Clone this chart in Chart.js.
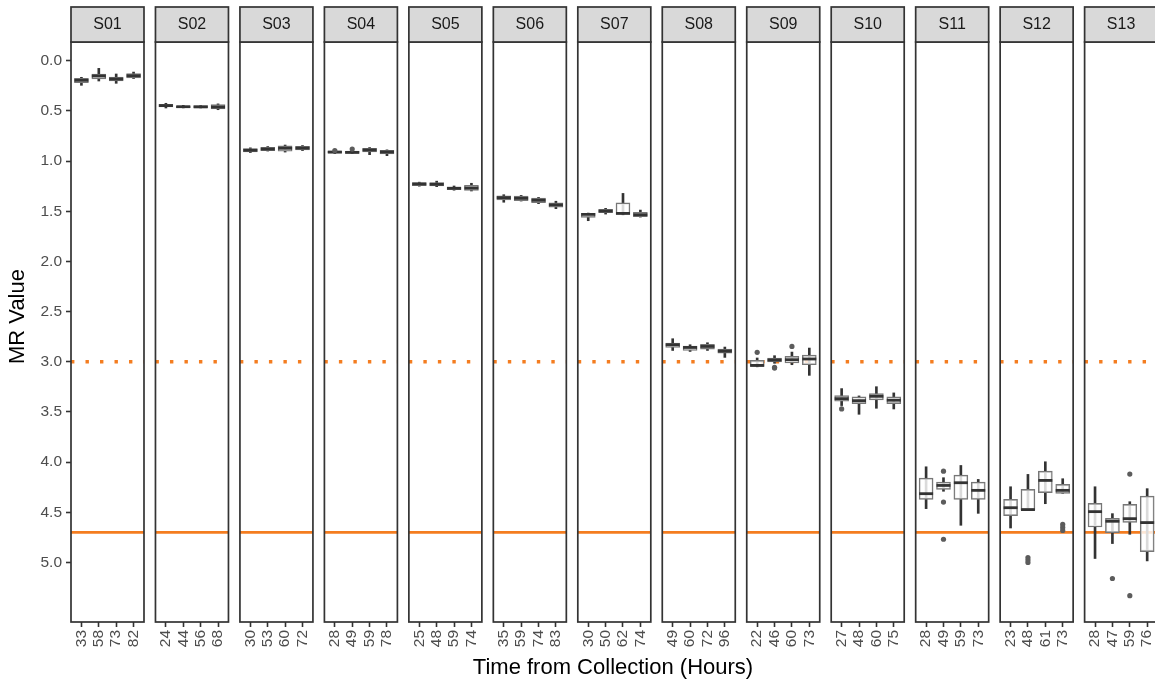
<!DOCTYPE html>
<html>
<head>
<meta charset="utf-8">
<script src="https://cdn.jsdelivr.net/npm/chart.js@4.4.1/dist/chart.umd.min.js"></script>
<style>
  html, body { margin: 0; padding: 0; background: #ffffff; overflow: hidden; }
  canvas { display: block; }
</style>
</head>
<body>
<canvas id="chart" width="1155" height="682"></canvas>
<script>
// Facet labels (one panel per subject)
const subjects = ['S01','S02','S03','S04','S05','S06','S07','S08','S09','S10','S11','S12','S13'];

// Collection times (hours) shown under each panel
const hours = [
  [33, 58, 73, 82], [24, 44, 56, 68], [30, 53, 60, 72], [28, 49, 59, 78],
  [25, 48, 59, 74], [35, 59, 74, 83], [30, 50, 62, 74], [49, 60, 72, 96],
  [22, 46, 60, 73], [27, 48, 60, 75], [28, 49, 59, 73], [23, 48, 61, 73],
  [28, 47, 59, 76]
];

// Box-plot statistics per subject and time point
const whiskerLow = [
  [0.165, 0.076, 0.132, 0.113], [0.424, 0.445, 0.445, 0.430], [0.868, 0.855, 0.840, 0.845],
  [0.900, 0.900, 0.865, 0.888], [1.210, 1.200, 1.248, 1.221], [1.335, 1.342, 1.362, 1.400],
  [1.518, 1.471, 1.322, 1.488], [2.770, 2.830, 2.810, 2.853], [2.962, 2.939, 2.903, 2.863],
  [3.267, 3.340, 3.248, 3.310], [4.046, 4.155, 4.033, 4.172], [4.245, 4.122, 3.996, 4.165],
  [4.245, 4.513, 4.394, 4.264]
];
const q1 = [
  [0.175, 0.132, 0.162, 0.129], [0.434, 0.451, 0.448, 0.437], [0.875, 0.862, 0.849, 0.852],
  [0.900, 0.903, 0.873, 0.893], [1.215, 1.215, 1.258, 1.241], [1.345, 1.348, 1.368, 1.417],
  [1.521, 1.481, 1.416, 1.511], [2.813, 2.843, 2.827, 2.873], [2.986, 2.962, 2.946, 2.933],
  [3.337, 3.350, 3.317, 3.350], [4.159, 4.199, 4.129, 4.199], [4.371, 4.271, 4.090, 4.222],
  [4.410, 4.560, 4.420, 4.338]
];
const median = [
  [0.195, 0.152, 0.182, 0.149], [0.447, 0.458, 0.460, 0.461], [0.892, 0.880, 0.872, 0.870],
  [0.910, 0.913, 0.889, 0.909], [1.228, 1.231, 1.271, 1.268], [1.364, 1.371, 1.390, 1.437],
  [1.531, 1.498, 1.521, 1.535], [2.830, 2.857, 2.847, 2.893], [3.036, 2.982, 2.979, 2.972],
  [3.367, 3.387, 3.344, 3.383], [4.314, 4.232, 4.205, 4.281], [4.454, 4.473, 4.182, 4.281],
  [4.493, 4.589, 4.563, 4.602]
];
const q3 = [
  [0.219, 0.182, 0.202, 0.172], [0.461, 0.467, 0.467, 0.481], [0.908, 0.895, 0.902, 0.889],
  [0.920, 0.923, 0.909, 0.929], [1.245, 1.248, 1.285, 1.291], [1.387, 1.394, 1.414, 1.460],
  [1.561, 1.515, 1.531, 1.555], [2.857, 2.887, 2.873, 2.913], [3.047, 3.002, 3.012, 3.029],
  [3.393, 3.417, 3.380, 3.417], [4.371, 4.271, 4.371, 4.371], [4.533, 4.473, 4.304, 4.311],
  [4.646, 4.702, 4.600, 4.891]
];
const whiskerHigh = [
  [0.245, 0.202, 0.225, 0.177], [0.471, 0.470, 0.470, 0.488], [0.915, 0.900, 0.910, 0.895],
  [0.925, 0.925, 0.936, 0.946], [1.250, 1.255, 1.290, 1.298], [1.410, 1.398, 1.424, 1.474],
  [1.594, 1.528, 1.535, 1.558], [2.887, 2.897, 2.887, 2.956], [3.050, 3.015, 3.029, 3.135],
  [3.436, 3.523, 3.463, 3.470], [4.463, 4.290, 4.629, 4.510], [4.656, 4.473, 4.414, 4.311],
  [4.960, 4.811, 4.719, 4.984]
];
const outliers = [
  [[], [], [], []], [[], [], [], []], [[], [], [], []],
  [[0.895], [0.880], [], []], [[], [], [], []], [[], [], [], []],
  [[], [], [], []], [[], [], [], []], [[2.906], [3.055, 3.062], [2.847], []],
  [[3.470], [], [], []], [[], [4.090, 4.398, 4.768], [], []],
  [[], [4.950, 4.975, 5.000], [], [4.620, 4.650, 4.680]],
  [[], [5.159], [4.119, 5.330], []]
];

// Reference thresholds
const refDotted = 3.0;
const refSolid = 4.7;

const yTicks = [0, 0.5, 1, 1.5, 2, 2.5, 3, 3.5, 4, 4.5, 5];

// ---- layout of the facets on a shared continuous x axis ----
const PITCH = 4.86;          // distance between neighbouring panels (x units)
const PAD = 0.6;             // discrete-axis padding on each side of a panel
const X_MIN = 1 - PAD;
const X_MAX = 62.77;
const panelStart = p => p * PITCH + 1 - PAD;
const panelEnd = p => p * PITCH + 4 + PAD;
const STRIP_TOP = 7;

// y limits with 5 % expansion of the data range
const allVals = [whiskerLow, whiskerHigh, outliers].flat(3);
const dMin = Math.min(...allVals), dMax = Math.max(...allVals);
const yExp = (dMax - dMin) * 0.05;
const Y_MIN = dMin - yExp, Y_MAX = dMax + yExp;

const FAMILY = "'Liberation Sans', Arial, Helvetica, sans-serif";
const REF_COLOR = '#F47D20';
const DARK = '#333333';

const tickPos = [], tickText = [];
const whiskerData = [], boxData = [], medianData = [], outlierData = [];
subjects.forEach((s, p) => {
  hours[p].forEach((h, j) => {
    const xv = p * PITCH + 1 + j;
    tickPos.push(xv);
    tickText.push(String(h));
    whiskerData.push({ x: xv, y: [whiskerLow[p][j], whiskerHigh[p][j]] });
    boxData.push({ x: xv, y: [q1[p][j], q3[p][j]] });
    medianData.push({ x: xv, y: median[p][j] });
    outliers[p][j].forEach(v => outlierData.push({ x: xv, y: v }));
  });
});

// Facet decorations: full-width plotting area, reference lines,
// panel frames, strip headers and the y-axis title
const facetPlugin = {
  id: 'facets',
  afterLayout(chart) {
    // let the panel strip run to the right edge of the canvas
    const a = chart.chartArea, xs = chart.scales.x;
    a.right = chart.width;
    a.width = a.right - a.left;
    xs.right = a.right;
    xs.width = a.right - xs.left;
    xs.configure();
  },
  beforeDatasetsDraw(chart) {
    const { ctx, chartArea: a, scales: { x, y } } = chart;
    ctx.save();
    ctx.beginPath();
    ctx.rect(a.left, a.top, a.right - a.left, a.bottom - a.top);
    ctx.clip();
    ctx.strokeStyle = REF_COLOR;
    ctx.lineCap = 'butt';
    subjects.forEach((s, p) => {
      const l = x.getPixelForValue(panelStart(p));
      const r = x.getPixelForValue(panelEnd(p));
      const yd = y.getPixelForValue(refDotted);
      ctx.lineWidth = 3.4;
      ctx.setLineDash([3.4, 11.1]);
      ctx.lineDashOffset = 0;
      ctx.beginPath();
      ctx.moveTo(l, yd);
      ctx.lineTo(r, yd);
      ctx.stroke();
      const ys = y.getPixelForValue(refSolid);
      ctx.setLineDash([]);
      ctx.lineWidth = 2.7;
      ctx.beginPath();
      ctx.moveTo(l, ys);
      ctx.lineTo(r, ys);
      ctx.stroke();
    });
    ctx.restore();
  },
  afterDraw(chart) {
    const { ctx, chartArea: a, scales: { x } } = chart;
    ctx.save();
    subjects.forEach((s, p) => {
      const l = x.getPixelForValue(panelStart(p));
      const r = x.getPixelForValue(panelEnd(p));
      // panel frame
      ctx.strokeStyle = DARK;
      ctx.lineWidth = 1.7;
      ctx.strokeRect(l, a.top, r - l, a.bottom - a.top);
      // strip header
      ctx.fillStyle = '#D9D9D9';
      ctx.fillRect(l, STRIP_TOP, r - l, a.top - STRIP_TOP);
      ctx.strokeRect(l, STRIP_TOP, r - l, a.top - STRIP_TOP);
      ctx.fillStyle = '#1A1A1A';
      ctx.font = '16px ' + FAMILY;
      ctx.textAlign = 'center';
      ctx.textBaseline = 'middle';
      ctx.fillText(s, (l + r) / 2, (STRIP_TOP + a.top) / 2 + 0.5);
    });
    // y-axis title, centred on strips + panels
    ctx.fillStyle = '#000000';
    ctx.font = '22px ' + FAMILY;
    ctx.textAlign = 'center';
    ctx.textBaseline = 'middle';
    ctx.translate(18, (STRIP_TOP + a.bottom) / 2 + 2);
    ctx.rotate(-Math.PI / 2);
    ctx.fillText('MR Value', 0, 0);
    ctx.restore();
  }
};

Chart.defaults.font.family = FAMILY;

new Chart(document.getElementById('chart'), {
  type: 'bar',
  data: {
    datasets: [
      {
        label: 'whiskers', data: whiskerData, order: 4, grouped: false,
        barThickness: 2, backgroundColor: DARK, borderWidth: 0
      },
      {
        label: 'boxes', data: boxData, order: 3, grouped: false,
        barThickness: 14, backgroundColor: 'rgba(255,255,255,0.82)',
        borderColor: '#777777', borderWidth: 1.4, borderSkipped: false
      },
      {
        type: 'scatter', label: 'median', data: medianData, order: 2,
        pointStyle: 'line', pointRadius: 7, pointHoverRadius: 7,
        pointBorderColor: DARK, pointBorderWidth: 2.8, borderColor: DARK
      },
      {
        type: 'scatter', label: 'outliers', data: outlierData, order: 1,
        pointRadius: 2.6, pointHoverRadius: 2.6, pointBackgroundColor: '#5c5c5c',
        pointBorderWidth: 0
      }
    ]
  },
  options: {
    responsive: false,
    animation: false,
    events: [],
    layout: { padding: { top: 42, left: 0, right: 0, bottom: 0 } },
    plugins: { legend: { display: false }, tooltip: { enabled: false } },
    scales: {
      x: {
        type: 'linear', min: X_MIN, max: X_MAX, offset: false,
        afterBuildTicks: s => { s.ticks = tickPos.map(v => ({ value: v })); },
        afterFit: s => { s.height = 60; s.paddingLeft = 0; s.paddingRight = 0; },
        ticks: {
          autoSkip: false, minRotation: 90, maxRotation: 90, padding: 3,
          color: '#4D4D4D', font: { size: 15.5 },
          callback: (v, i) => tickText[i]
        },
        grid: {
          offset: false, drawOnChartArea: false, drawTicks: true,
          tickLength: 5, tickWidth: 1.6, tickColor: DARK, color: DARK
        },
        border: { display: false },
        title: {
          display: true, text: 'Time from Collection (Hours)', color: '#000000',
          font: { size: 22 }, padding: { top: 0, bottom: 1 }
        }
      },
      y: {
        type: 'linear', reverse: true, min: Y_MIN, max: Y_MAX,
        afterBuildTicks: s => { s.ticks = yTicks.map(v => ({ value: v })); },
        afterFit: s => { s.width = 71; s.paddingTop = 0; s.paddingBottom = 0; },
        ticks: {
          color: '#4D4D4D', font: { size: 15.5 }, padding: 4,
          callback: v => Number(v).toFixed(1)
        },
        grid: {
          drawOnChartArea: false, drawTicks: true,
          tickLength: 5, tickWidth: 1.6, tickColor: DARK, color: DARK
        },
        border: { display: false },
        title: { display: false }
      }
    }
  },
  plugins: [facetPlugin]
});
</script>
</body>
</html>
